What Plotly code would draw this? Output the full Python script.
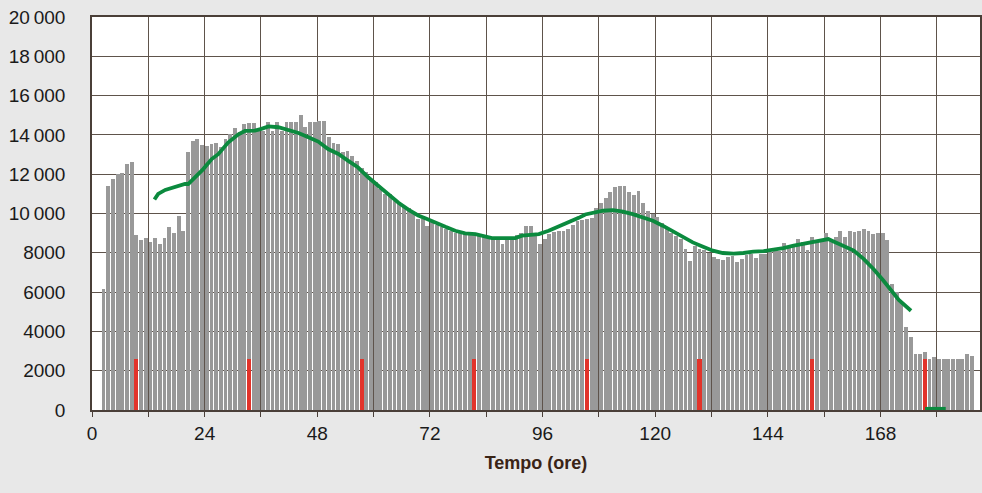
import plotly.graph_objects as go

# ---- data ----
bar_hours = list(range(2, 188))
bar_values = [
    6170, 11420, 11750, 12000, 12050, 12510, 12610, 8920, 8670, 8750,
    8570, 8750, 8470, 8750, 9290, 9020, 9850, 9110, 13150, 13690,
    13780, 13470, 13440, 13560, 13610, 13400, 13780, 14060, 14330, 14160,
    14540, 14620, 14620, 14300, 14200, 14650, 14200, 14650, 14200, 14650,
    14650, 14650, 15000, 14400, 14680, 14680, 14720, 14720, 13910, 13600,
    13540, 13110, 13160, 12940, 12680, 12340, 12090, 11740, 11610, 11230,
    10970, 10970, 10630, 10550, 10380, 10290, 10030, 9730, 9730, 9370,
    9550, 9400, 9300, 9200, 9100, 9000, 9000, 9000, 8950, 8900,
    8900, 8850, 8800, 8700, 8750, 8450, 8700, 8800, 8900, 9000,
    9350, 9350, 9000, 8450, 8700, 8950, 9050, 9100, 9100, 9200,
    9400, 9600, 9660, 9710, 9750, 10300, 10560, 10810, 11110, 11350,
    11400, 11400, 11110, 10950, 11150, 10560, 10140, 10000, 9800, 9500,
    9300, 9000, 8870, 8700, 8200, 7600, 8360, 8200, 8150, 8000,
    7800, 7700, 7650, 7770, 7860, 7520, 7690, 7910, 7950, 7740,
    7940, 7940, 8030, 8190, 8110, 8480, 8280, 8400, 8700, 8530,
    8140, 8820, 8530, 8700, 9000, 8620, 8780, 9120, 8790, 9100,
    9080, 9100, 9190, 9120, 8950, 9020, 9020, 8670, 6400, 6000,
    5450, 4240, 3700, 2860, 2860, 2960, 2600, 2700, 2600, 2600,
    2600, 2600, 2600, 2600, 2860, 2730,
]

red_hours = [9, 33, 57, 81, 105, 129, 153, 177]
red_values = [2600, 2600, 2600, 2600, 2600, 2600, 2600, 2600]

green_hours = [
    13.3, 14.1, 15.6, 17.7, 19.8, 20.5, 21.9, 23.7, 25.5, 26.9,
    29.0, 31.2, 32.6, 34.7, 36.1, 37.6, 39.7, 41.8, 44.0, 46.1,
    48.2, 50.3, 52.5, 54.6, 56.7, 58.9, 61.0, 63.1, 65.3, 67.4,
    69.5, 71.0, 72.4, 75.3, 77.4, 79.5, 81.7, 83.8, 85.2, 88.1,
    90.2, 91.6, 93.0, 95.2, 97.3, 99.4, 101.5, 103.7, 105.1, 106.7,
    108.9, 111.0, 113.1, 115.2, 117.4, 119.5, 121.6, 123.8, 125.9, 128.0,
    130.2, 132.3, 134.4, 136.7, 138.8, 140.9, 143.1, 145.2, 147.3, 149.5,
    151.6, 153.7, 155.9, 156.9, 158.0, 160.1, 162.3, 164.4, 166.5, 168.6,
    170.0, 171.9, 174.5,
    None,
    177.5, 181.9,
]
green_values = [
    10710, 11000, 11200, 11370, 11500, 11500, 11840, 12260, 12770, 13020,
    13610, 14030, 14200, 14220, 14310, 14430, 14390, 14270, 14100, 13880,
    13660, 13280, 13030, 12680, 12340, 11830, 11400, 10970, 10550, 10200,
    9900, 9760, 9600, 9320, 9120, 8990, 8950, 8820, 8750, 8750,
    8750, 8870, 8920, 8950, 9120, 9320, 9540, 9780, 9950, 10050,
    10140, 10170, 10100, 9970, 9800, 9630, 9380, 9090, 8780, 8530,
    8310, 8110, 7990, 7960, 7990, 8060, 8080, 8140, 8240, 8360,
    8450, 8580, 8650, 8700, 8580, 8360, 8110, 7690, 7180, 6590,
    6200, 5600, 5050,
    None,
    60, 60,
]

x_tickvals = list(range(0, 181, 12))
x_ticktext = [str(v) if v % 24 == 0 else "" for v in x_tickvals]
y_tickvals = list(range(0, 20001, 2000))
y_ticktext = ["0", "2000", "4000", "6000", "8000",
              "10\u2009000", "12\u2009000", "14\u2009000", "16\u2009000", "18\u2009000", "20\u2009000"]

BAR_OFFSET = 0.45
FONT = "Liberation Sans, Arial, sans-serif"

fig = go.Figure()
fig.add_trace(go.Bar(
    x=[h + BAR_OFFSET for h in bar_hours], y=bar_values, width=0.82,
    marker=dict(color="#999999", line=dict(width=0)), showlegend=False,
))
fig.add_trace(go.Bar(
    x=[h + BAR_OFFSET for h in red_hours], y=red_values, width=0.9,
    marker=dict(color="#e2332a", line=dict(width=0)), showlegend=False,
))
fig.add_trace(go.Scatter(
    x=green_hours, y=green_values, mode="lines", connectgaps=False,
    line=dict(color="#0b8a3e", width=3.8), showlegend=False,
))

fig.update_layout(
    width=982, height=493,
    margin=dict(l=92, r=2, t=17, b=83),
    paper_bgcolor="#e8e8e8", plot_bgcolor="#ffffff",
    barmode="overlay", bargap=0,
    font=dict(family=FONT, size=19, color="#1a1a1a"),
    xaxis=dict(
        range=[0, 189.2], tickmode="array", tickvals=x_tickvals, ticktext=x_ticktext,
        showgrid=True, gridcolor="#5e534b", gridwidth=1.2,
        showline=True, linecolor="#4a3f38", linewidth=1.5, mirror=True,
        ticks="outside", ticklen=5, tickcolor="#4a3f38", tickwidth=1.3,
        tickfont=dict(size=19, family=FONT, color="#1a1a1a"),
        zeroline=False, automargin=False,
        title=dict(text="<b>Tempo (ore)</b>", standoff=14,
                   font=dict(size=18, family=FONT, color="#3a2416")),
    ),
    yaxis=dict(
        range=[0, 20000], tickmode="array", tickvals=y_tickvals, ticktext=y_ticktext,
        showgrid=True, gridcolor="#5e534b", gridwidth=1.2,
        showline=True, linecolor="#4a3f38", linewidth=1.5, mirror=True,
        ticks="", ticklabelstandoff=21,
        tickfont=dict(size=19, family=FONT, color="#1a1a1a"),
        zeroline=False, automargin=False,
    ),
)

fig.write_html(
    "out.html",
    config={"displayModeBar": False},
    post_script="document.body.style.margin='0';document.body.style.background='#e8e8e8';",
)
